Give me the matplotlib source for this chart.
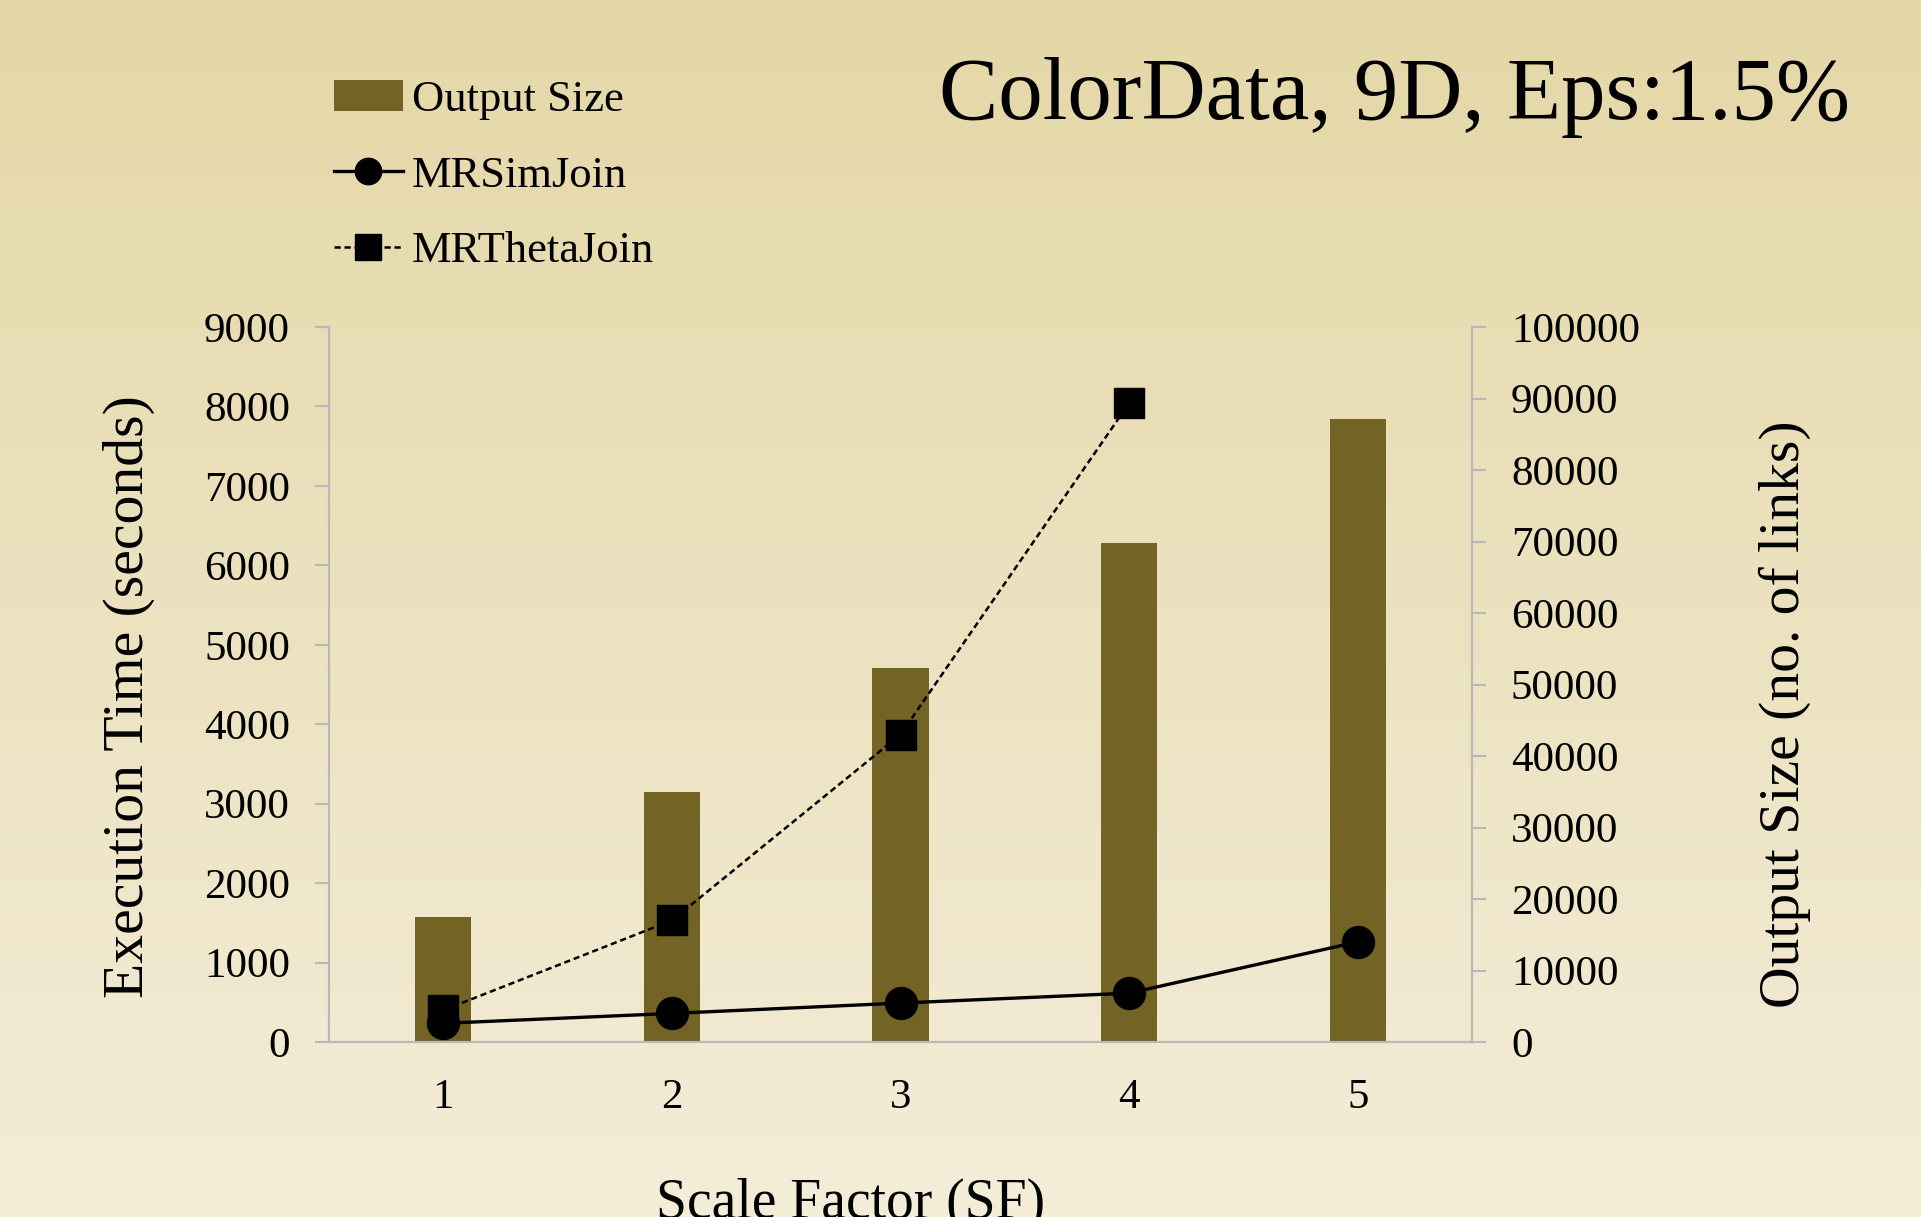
import numpy as np
import matplotlib.pyplot as plt
from matplotlib.patches import Patch
from matplotlib.lines import Line2D

# data
scale_factor = [1, 2, 3, 4, 5]
output_size = [17500, 34900, 52300, 69800, 87100]
mrsimjoin = [235, 360, 490, 615, 1260]
mrthetajoin = [400, 1530, 3870, 8040]

plt.rcParams['font.family'] = ['Liberation Serif', 'DejaVu Serif']

fig = plt.figure(figsize=(19.21, 12.17), dpi=100)

# gradient background
bg = fig.add_axes([0, 0, 1, 1], zorder=-10)
top = np.array([228, 215, 167]) / 255
bot = np.array([244, 237, 216]) / 255
t = np.linspace(0, 1, 256)[:, None]
grad = (top[None, :] * (1 - t) + bot[None, :] * t)[:, None, :]
bg.imshow(grad, aspect='auto', extent=[0, 1, 0, 1])
bg.axis('off')

ax = fig.add_axes([329 / 1921, 175 / 1217, 1143 / 1921, 715 / 1217])
ax2 = ax.twinx()
ax.set_zorder(ax2.get_zorder() + 1)
ax.patch.set_visible(False)
ax2.patch.set_facecolor('#9db083')

bar_color = '#736325'
ax2.bar(scale_factor, output_size, width=0.245, color=bar_color)
ax.plot(scale_factor, mrsimjoin, '-', color='black', lw=2.4,
        marker='o', markersize=23)
ax.plot(scale_factor[:len(mrthetajoin)], mrthetajoin, '--', color='black',
        lw=1.8, dashes=(2.5, 1.5), marker='s', markersize=22)

ax.set_xlim(0.5, 5.5)
ax.set_ylim(0, 9000)
ax2.set_ylim(0, 100000)
ax.set_yticks(range(0, 9001, 1000))
ax2.set_yticks(range(0, 100001, 10000))
ax.set_xticks(scale_factor)

axis_gray = '#b8b8b8'
for a in (ax, ax2):
    a.spines['top'].set_visible(False)
    for side in ('left', 'right', 'bottom'):
        a.spines[side].set_color(axis_gray)
        a.spines[side].set_linewidth(1.5)

ax.tick_params(axis='y', length=10, width=1.5, color=axis_gray,
               labelsize=31, pad=18)
ax2.tick_params(axis='y', length=10, width=1.5, color=axis_gray,
                labelsize=31, pad=18)
ax.tick_params(axis='x', length=0, labelsize=31, pad=26)

# axis titles
fig.text(129 / 1921, 1 - 697 / 1217, 'Execution Time (seconds)',
         fontsize=41.5, rotation=90, ha='center', va='center')
fig.text(1785 / 1921, 1 - 714 / 1217, 'Output Size (no. of links)',
         fontsize=41.5, rotation=90, ha='center', va='center')
fig.text(851 / 1921, 1 - 1178 / 1217, 'Scale Factor (SF)', fontsize=40,
         ha='center', va='top')

fig.text(1850 / 1921, 1 - 119 / 1217, 'ColorData, 9D, Eps:1.5%',
         fontsize=64, ha='right', va='baseline')

handles = [
    Patch(facecolor=bar_color, label='Output Size'),
    Line2D([], [], color='black', lw=2.4, marker='o', markersize=19,
           label='MRSimJoin'),
    Line2D([], [], color='black', lw=1.8, ls='--', dashes=(2.5, 1.5),
           marker='s', markersize=19, label='MRThetaJoin'),
]
fig.legend(handles=handles, loc='upper left',
           bbox_to_anchor=(334 / 1921, 1 - 80 / 1217), frameon=False,
           fontsize=32, handlelength=1.55, handletextpad=0.2,
           labelspacing=0.8, borderpad=0, borderaxespad=0)

fig.savefig('out.png', dpi=100)
